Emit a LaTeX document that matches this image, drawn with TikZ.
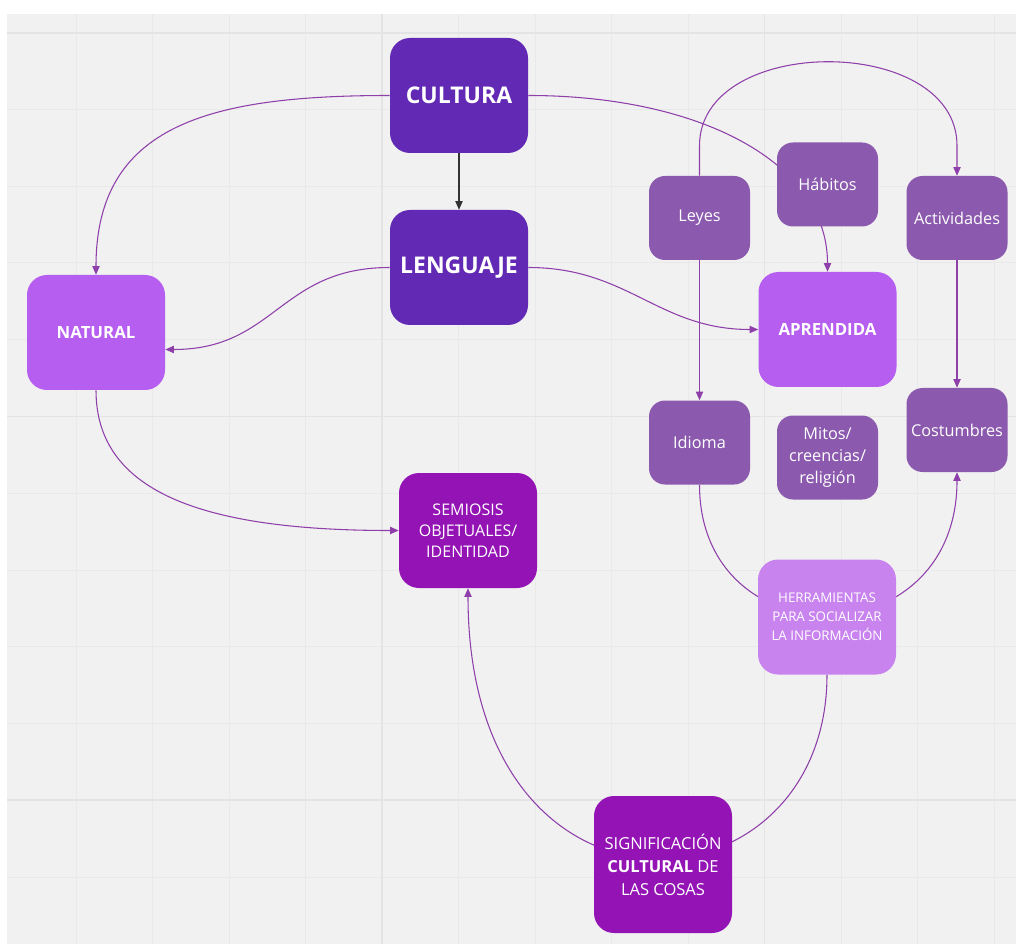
\documentclass[tikz,border=0pt]{standalone}
\usepackage{fontspec}
\setmainfont{Open Sans}
\usetikzlibrary{arrows.meta,backgrounds,calc}

\definecolor{boardgray}{HTML}{F1F1F1}
\definecolor{gridminor}{HTML}{E9E9E9}
\definecolor{gridmajor}{HTML}{E4E4E4}
\definecolor{deepviolet}{HTML}{6229B5}
\definecolor{lightviolet}{HTML}{B65EEF}
\definecolor{midviolet}{HTML}{8B59AD}
\definecolor{magentaviolet}{HTML}{9313B4}
\definecolor{lavender}{HTML}{C983EF}
\definecolor{linkcolor}{HTML}{8E3FAA}

\begin{document}
\begin{tikzpicture}[x=0.75pt,y=-0.75pt,
  bigbox/.style={rectangle, rounded corners=15pt, inner sep=0pt, text=white,
    align=center, minimum width=103.5pt, minimum height=86.25pt},
  corebox/.style={bigbox, fill=deepviolet, font=\bfseries\fontsize{17.25}{20}\selectfont},
  kindbox/.style={bigbox, fill=lightviolet, font=\bfseries\fontsize{12.6}{15}\selectfont},
  themebox/.style={bigbox, fill=magentaviolet, font=\fontsize{12}{15.75}\selectfont},
  toolbox/.style={bigbox, fill=lavender, font=\fontsize{10}{14.25}\selectfont},
  itembox/.style={rectangle, rounded corners=12pt, inner sep=0pt, fill=midviolet,
    text=white, align=center, minimum width=75.75pt, minimum height=63pt,
    font=\fontsize{12.2}{16.5}\selectfont},
  link/.style={draw=linkcolor, line width=0.8pt, -{Triangle[length=6.5pt,width=5.5pt]}},
  plainlink/.style={draw=black!80, line width=0.8pt, -{Triangle[length=6.5pt,width=5.5pt]}},
  gridthin/.style={draw=gridminor, line width=0.75pt},
  gridthick/.style={draw=gridmajor, line width=1.1pt}
]
\useasboundingbox (0,0) rectangle (1016,944);

% concept boxes
\node[corebox] (cultura) at (459,95.5) {CULTURA};
\node[corebox] (lenguaje) at (459,267.5) {LENGUAJE};
\node[kindbox] (natural) at (96,332.5) {NATURAL};
\node[kindbox] (aprendida) at (827.5,329.5) {APRENDIDA};
\node[itembox] (leyes) at (699.5,218) {Leyes};
\node[itembox] (habitos) at (827.5,184.5) {Hábitos};
\node[itembox] (actividades) at (957,218) {Actividades};
\node[itembox] (idioma) at (699.5,442.5) {Idioma};
\node[itembox] (mitos) at (827.5,457.5) {Mitos/\\creencias/\\religión};
\node[itembox] (costumbres) at (957,430) {Costumbres};
\node[themebox] (semiosis) at (468,530.5) {SEMIOSIS\\OBJETUALES/\\IDENTIDAD};
\node[toolbox] (herramientas) at (827,617) {HERRAMIENTAS\\PARA SOCIALIZAR\\LA INFORMACIÓN};
\node[themebox, minimum height=102.75pt, font=\fontsize{12.4}{17.25}\selectfont] (significacion) at (663,864.5)
  {SIGNIFICACIÓN\\\textbf{CULTURAL} DE\\LAS COSAS};

\begin{pgfonlayer}{background}
  % board and grid
  \fill[white] (0,0) rectangle (1016,944);
  \fill[boardgray] (7,14) rectangle (1016,944);
  \foreach \gx in {76,152.5,229,305.5,458.5,535,611.5,688,841,917.5,994}
    \draw[gridthin] (\gx,14) -- (\gx,944);
  \foreach \gy in {109.7,186.4,263,339.8,493.2,570,646.6,723.3,877}
    \draw[gridthin] (7,\gy) -- (1016,\gy);
  \foreach \gx in {382,764.5}
    \draw[gridthick] (\gx,14) -- (\gx,944);
  \foreach \gy in {33,416.5,800}
    \draw[gridthick] (7,\gy) -- (1016,\gy);

  % connectors (they run behind the boxes)
  \draw[plainlink] (cultura.south) -- (lenguaje.north);
  \draw[link] (cultura.west) .. controls +(-180,0) and +(0,-150) .. (natural.north);
  \draw[link] (cultura.east) .. controls +(170,0) and +(0,-110) .. (aprendida.north);
  \draw[link] (lenguaje.west) .. controls +(-110,0) and +(110,0) .. ([yshift=-12.75pt]natural.east);
  \draw[link] (lenguaje.east) .. controls +(100,0) and +(-100,0) .. (aprendida.west);
  \draw[link] (natural.south) .. controls +(0,100) and +(-200,0) .. (semiosis.west);
  \draw[link] (leyes.north) -- ($(leyes.north)+(0,-30)$)
    .. controls +(0,-112) and +(0,-112) .. ($(actividades.north)+(0,-30)$) -- (actividades.north);
  \draw[link] (leyes.south) -- (idioma.north);
  \draw[link] (actividades.south) -- (costumbres.north);
  \draw[link] (idioma.south) .. controls +(0,175) and +(0,187) .. (costumbres.south);
  \draw[link] (herramientas.south) .. controls +(0,245) and +(0,357) .. (semiosis.south);
\end{pgfonlayer}
\end{tikzpicture}
\end{document}
